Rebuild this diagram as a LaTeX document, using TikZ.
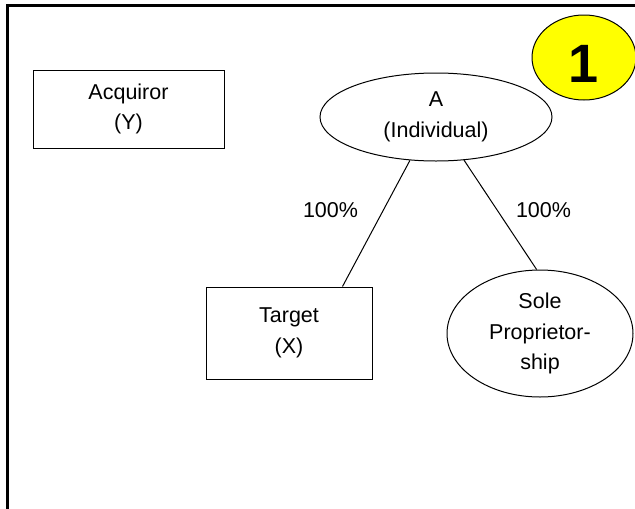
\documentclass[tikz,border=0pt]{standalone}
\usepackage{fontspec}
\setmainfont{Liberation Sans}
\usetikzlibrary{shapes.geometric}
\definecolor{stepyellow}{rgb}{1.00, 1.00, 0.00}
\tikzset{
	party/.style={draw, line width=1pt, inner sep=0pt, align=center, font=\fontsize{21.5}{30.5}\selectfont},
	company/.style={party, rectangle},
	person/.style={party, ellipse},
	share/.style={font=\fontsize{21.5}{30.5}\selectfont}
}

\begin{document}
\begin{tikzpicture}[x=1pt, y=-1pt]
	\clip (0,0) rectangle (635,509);
	\draw[line width=3pt] (7.5,5.5) rectangle (700,600);
	\node[company, minimum width=191pt, minimum height=78pt] (acquiror) at (128.5,109) {Acquiror\\(Y)};
	\node[person, minimum width=232pt, minimum height=88pt] (a) at (436,117) {A\\(Individual)};
	\node[company, minimum width=166pt, minimum height=92pt] (target) at (289,333) {Target\\(X)};
	\node[person, minimum width=186pt, minimum height=127pt] (sole) at (540,333.5) {Sole\\Proprietor-\\ship};
	\node[ellipse, draw, line width=1pt, fill=stepyellow, minimum width=104pt, minimum height=85pt, inner sep=0pt, font=\fontsize{54}{54}\selectfont\bfseries, text height=49pt] (stepno) at (584,57.5) {1};
	\draw[line width=1pt] (a.239) -- (target.41.5);
	\draw[line width=1pt] (a.303) -- (sole.93);
	\node[share] (sharetarget) at (330.5,210) {100\%};
	\node[share] (sharesole) at (543.5,210) {100\%};
\end{tikzpicture}
\end{document}
